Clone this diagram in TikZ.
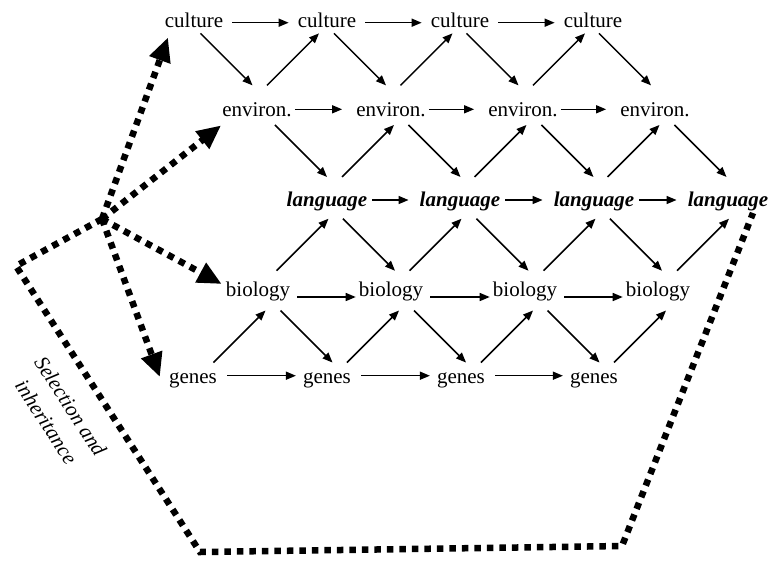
\documentclass[tikz,border=0pt]{standalone}
\usepackage{fontspec}
\setmainfont{Liberation Serif}
\usetikzlibrary{arrows.meta,calc}
\newcommand\myDn[4]{\draw[arr] ($(#1.base)!.5!(#2.base)+(#3,#4)+(-26,-26)$) -- ($(#1.base)!.5!(#2.base)+(#3,#4)+(26,26)$);}
\newcommand\myUp[4]{\draw[arr] ($(#1.base)!.5!(#2.base)+(#3,#4)+(-26,26)$) -- ($(#1.base)!.5!(#2.base)+(#3,#4)+(26,-26)$);}
\newcommand\myH[5]{\draw[arr] ([shift={(#3,#5)}]#1.base east) -- ([shift={(-#4,#5)}]#2.base west);}
\begin{document}
\begin{tikzpicture}[x=1pt,y=-1pt,
  lbl/.style={font=\fontsize{21}{25}\selectfont, inner sep=0pt, anchor=base},
  lang/.style={lbl, font=\fontsize{21}{25}\selectfont\bfseries\itshape},
  arr/.style={-{Triangle[length=10pt,width=8pt]}, line width=1.5pt},
  sel/.style={line width=6.5pt, dash pattern=on 6.5pt off 6pt, line join=miter},
  selarr/.style={sel, -{Triangle[length=24pt,width=21pt]}}]
\path[use as bounding box] (0,0) rectangle (773,560);
% nodes
\node[lbl] (c1) at (194,27) {culture};
\node[lbl] (c2) at (327,27) {culture};
\node[lbl] (c3) at (460,27) {culture};
\node[lbl] (c4) at (593,27) {culture};
\node[lbl] (e1) at (257,116.7) {environ.};
\node[lbl] (e2) at (391,116.7) {environ.};
\node[lbl] (e3) at (523,116.7) {environ.};
\node[lbl] (e4) at (655,116.7) {environ.};
\node[lang] (l1) at (327,206) {language};
\node[lang] (l2) at (460,206) {language};
\node[lang] (l3) at (594,206) {language};
\node[lang] (l4) at (728,206) {language};
\node[lbl] (b1) at (258,296) {biology};
\node[lbl] (b2) at (391,296) {biology};
\node[lbl] (b3) at (525,296) {biology};
\node[lbl] (b4) at (658,296) {biology};
\node[lbl] (g1) at (193,383) {genes};
\node[lbl] (g2) at (327,383) {genes};
\node[lbl] (g3) at (461,383) {genes};
\node[lbl] (g4) at (594,383) {genes};
% horizontal arrows
\myH{c1}{c2}{9}{9}{-4.3}\myH{c2}{c3}{9}{9}{-4.3}\myH{c3}{c4}{9}{9}{-4.3}
\myH{e1}{e2}{3}{14}{-7.4}\myH{e2}{e3}{3}{14}{-7.4}\myH{e3}{e4}{3}{14}{-7.4}
\myH{l1}{l2}{5}{11}{-6}\myH{l2}{l3}{5}{11}{-6}\myH{l3}{l4}{5}{11}{-6}
\myH{b1}{b2}{7}{3}{1}\myH{b2}{b3}{7}{3}{1}\myH{b3}{b4}{7}{3}{1}
\myH{g1}{g2}{10}{7}{-7.3}\myH{g2}{g3}{10}{7}{-7.3}\myH{g3}{g4}{10}{7}{-7.3}
% culture - environ
\myDn{c1}{e1}{1}{-12.5}\myDn{c2}{e2}{1}{-12.5}\myDn{c3}{e3}{1}{-12.5}\myDn{c4}{e4}{1}{-12.5}
\myUp{e1}{c2}{1}{-12.5}\myUp{e2}{c3}{1}{-12.5}\myUp{e3}{c4}{1}{-12.5}
% environ - language
\myDn{e1}{l1}{9}{-10.4}\myDn{e2}{l2}{9}{-10.4}\myDn{e3}{l3}{9}{-10.4}\myDn{e4}{l4}{9}{-10.4}
\myUp{l1}{e2}{9}{-10.4}\myUp{l2}{e3}{9}{-10.4}\myUp{l3}{e4}{9}{-10.4}
% biology - language
\myUp{b1}{l1}{10}{-6.3}\myUp{b2}{l2}{10}{-6.3}\myUp{b3}{l3}{10}{-6.3}\myUp{b4}{l4}{10}{-6.3}
\myDn{l1}{b2}{10}{-6.3}\myDn{l2}{b3}{10}{-6.3}\myDn{l3}{b4}{10}{-6.3}
% genes - biology
\myUp{g1}{b1}{14}{-3}\myUp{g2}{b2}{14}{-3}\myUp{g3}{b3}{14}{-3}\myUp{g4}{b4}{14}{-3}
\myDn{b1}{g2}{14}{-3}\myDn{b2}{g3}{14}{-3}\myDn{b3}{g4}{14}{-3}
% selection and inheritance
\coordinate (J) at (102,219);
\coordinate (pL) at (16,266);
\coordinate (pBL) at (200,552);
\coordinate (pBR) at (622,546);
\coordinate (pR) at (753,213);
\draw[sel] (J) -- (pL) -- (pBL) -- (pBR) -- (pR);
\draw[selarr] (J) -- ([shift={(-26,10)}]c1.south);
\draw[selarr] (J) -- ([shift={(-1,15.5)}]e1.west);
\draw[selarr] (J) -- ([shift={(-4,-12)}]b1.base west);
\draw[selarr] (J) -- ([shift={(-9,-6)}]g1.base west);
\node[font=\fontsize{21}{29}\selectfont\itshape, align=center, rotate=-57] (sel) at (58.5,414) {Selection and\\inheritance};
\end{tikzpicture}
\end{document}
